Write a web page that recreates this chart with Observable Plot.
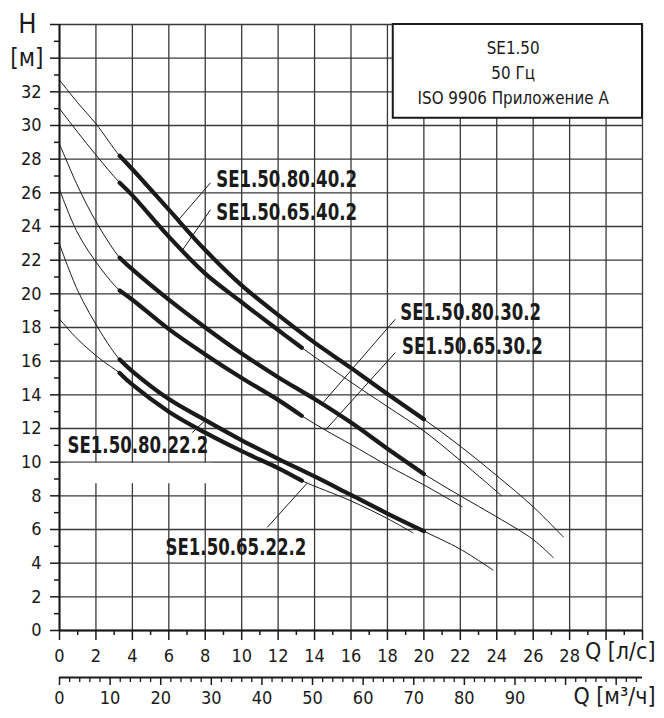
<!DOCTYPE html>
<html><head><meta charset="utf-8">
<script src="https://cdn.jsdelivr.net/npm/d3@7"></script>
<script src="https://cdn.jsdelivr.net/npm/@observablehq/plot@0.6"></script>
<style>
body{margin:0;background:#fff;}
#chart{width:664px;height:718px;}
svg{font-family:"Liberation Sans Narrow","DejaVu Sans Condensed","Roboto Condensed",Arial,sans-serif;}
</style></head><body><div id="chart"></div>
<script>
// Pump curves: flow Q [л/с] and head H [м]
const q80_40 = [0, 1, 2, 3.3, 4, 6, 8, 10, 12, 14, 16, 18, 20, 22, 24, 26, 27.65];
const h80_40 = [32.7, 31.35, 30.1, 28.2, 27.4, 25.0, 22.6, 20.5, 18.75, 17.1, 15.6, 14.05, 12.55, 10.95, 9.2, 7.35, 5.56];
const q65_40 = [0, 1, 2, 3.3, 4, 6, 8, 10, 12, 13.3, 16, 18, 20, 22, 24.27];
const h65_40 = [31.0, 29.6, 28.25, 26.6, 25.85, 23.4, 21.2, 19.5, 17.85, 16.8, 14.75, 13.3, 11.85, 10.1, 8.0];
const q80_30 = [0, 1, 2, 3.3, 4, 6, 8, 10, 12, 14, 16, 18, 20, 22, 24, 26, 27.1];
const h80_30 = [28.9, 26.4, 24.3, 22.15, 21.45, 19.65, 18.0, 16.45, 15.05, 13.75, 12.35, 10.8, 9.3, 8.0, 6.75, 5.4, 4.33];
const q65_30 = [0, 1, 2.27, 3.3, 4, 6, 8, 10, 12, 13.3, 14.6, 16, 18, 20, 22.1];
const h65_30 = [26.2, 23.6, 21.5, 20.2, 19.65, 17.9, 16.4, 15.0, 13.7, 12.75, 11.9, 11.05, 9.8, 8.65, 7.35];
const q80_22 = [0, 1, 2.27, 3.3, 4, 6, 8, 10, 12, 14, 16, 18, 20, 22, 23.8];
const h80_22 = [22.95, 20.2, 17.7, 16.1, 15.4, 13.75, 12.5, 11.3, 10.2, 9.15, 8.05, 6.95, 5.9, 4.83, 3.59];
const q65_22 = [0, 1, 2.27, 3.3, 4, 6, 8, 10, 12, 13.3, 16, 18, 19.4];
const h65_22 = [18.5, 17.3, 16.1, 15.3, 14.6, 13.0, 11.75, 10.65, 9.65, 8.9, 7.7, 6.65, 5.8];

// Operating ranges (thick part of each curve), Q [л/с]
const range80 = [3.3, 20];
const range65 = [3.3, 13.3];

const pumpNames = ["SE1.50.80.40.2", "SE1.50.65.40.2", "SE1.50.80.30.2", "SE1.50.65.30.2", "SE1.50.80.22.2", "SE1.50.65.22.2"];

// Axis ticks
const xTickLabels = [0, 2, 4, 6, 8, 10, 12, 14, 16, 18, 20, 22, 24, 26, 28];
const yTickLabels = [0, 2, 4, 6, 8, 10, 12, 14, 16, 18, 20, 22, 24, 26, 28, 30, 32];
const m3hTickLabels = [0, 10, 20, 30, 40, 50, 60, 70, 80, 90];

// Legend text
const legendLines = ["SE1.50", "50 Гц", "ISO 9906 Приложение A"];

// Curve labels (annotation anchor in data units) and leader lines
const labelX = [8.6, 8.6, 18.7, 18.8, 0.44, 5.82];
const labelY = [26.82, 24.82, 18.88, 16.9, 10.97, 4.93];
const leadFromX = [8.29, 8.29, 18.43, 18.43, 7.29, 11.4];
const leadFromY = [26.6, 25.0, 18.49, 16.51, 11.76, 6.12];
const leadToX = [6.5, 6.75, 14.4, 14.59, 8.02, 13.59];
const leadToY = [24.35, 22.6, 13.45, 11.9, 12.5, 8.75];

const series = [
  [q80_40, h80_40, range80], [q65_40, h65_40, range65],
  [q80_30, h80_30, range80], [q65_30, h65_30, range65],
  [q80_22, h80_22, range80], [q65_22, h65_22, range65]
];
const rows = [];
series.forEach(([qs, hs, r], i) => qs.forEach((q, j) => rows.push({name: pumpNames[i], q, h: hs[j], op: q >= r[0] - 1e-9 && q <= r[1] + 1e-9})));
const thickRows = rows.filter(d => d.op);

const labels = pumpNames.map((name, i) => ({name, x: labelX[i], y: labelY[i]}));
const leaders = pumpNames.map((name, i) => ({x1: leadFromX[i], y1: leadFromY[i], x2: leadToX[i], y2: leadToY[i]}));

const gridX = d3.range(0, 33, 2);
const gridY = d3.range(0, 37, 2);
const minorX = d3.range(1, 33, 2);
const minorY = d3.range(1, 36, 2);
const m3hMinor = d3.range(0, 116, 2).filter(v => v % 10 !== 0);
const m3hMajor = d3.range(0, 116, 10);

const gridColor = "#3a3a3a";
const ink = "#1a1a1a";

const chart = Plot.plot({
  width: 664,
  height: 718,
  marginLeft: 59,
  marginRight: 22,
  marginTop: 24,
  marginBottom: 88,
  x: {domain: [0, 32]},
  y: {domain: [0, 36]},
  style: {fontFamily: '"Liberation Sans Narrow","DejaVu Sans Condensed","Roboto Condensed",Arial,sans-serif', color: ink, background: "#fff"},
  marks: [
    Plot.ruleX(gridX, {stroke: gridColor, strokeWidth: 1.3}),
    Plot.ruleY(gridY, {stroke: gridColor, strokeWidth: 1.3}),
    // white gap under the SE1.50.80.22.2 label
    Plot.rect([{x1: 0.35, x2: 8.4, y1: 8.72, y2: 9.93}], {x1: "x1", x2: "x2", y1: "y1", y2: "y2", fill: "#fff"}),
    Plot.ruleX([0], {stroke: ink, strokeWidth: 2}),
    Plot.ruleY([0], {stroke: ink, strokeWidth: 2}),
    // legend box
    Plot.rect([{x1: 18.32, x2: 32, y1: 30.43, y2: 36}], {x1: "x1", x2: "x2", y1: "y1", y2: "y2", fill: "#fff", stroke: ink, strokeWidth: 2}),
    Plot.text(legendLines, {x: 24.9, y: (d, i) => [34.6, 33.1, 31.6][i], text: d => d, fontSize: 18.5, fill: ink, className: "legend-text"}),
    // curves
    Plot.line(rows, {x: "q", y: "h", z: "name", curve: "catmull-rom", stroke: ink, strokeWidth: 1}),
    Plot.line(thickRows, {x: "q", y: "h", z: "name", curve: "catmull-rom", stroke: ink, strokeWidth: 4.2}),
    Plot.link(leaders, {x1: "x1", y1: "y1", x2: "x2", y2: "y2", stroke: ink, strokeWidth: 1}),
    Plot.text(labels, {x: "x", y: "y", text: "name", textAnchor: "start", fontWeight: "bold", fontSize: 23.5, fill: ink, className: "curve-label"}),
    // y axis
    Plot.axisY(yTickLabels, {anchor: "left", tickSize: 9, tickPadding: 9, fontSize: 18, stroke: ink, strokeWidth: 1.5, label: null}),
    Plot.axisY(minorY, {anchor: "left", tickSize: 5, tickFormat: () => "", stroke: ink, strokeWidth: 1.5, label: null}),
    Plot.axisY([36], {anchor: "left", tickSize: 9, tickPadding: 14, tickFormat: () => "H", fontSize: 27, stroke: ink, strokeWidth: 1.5, label: null}),
    Plot.axisY([34], {anchor: "left", tickSize: 9, tickPadding: 7, tickFormat: () => "[м]", fontSize: 24, stroke: ink, strokeWidth: 1.5, label: null}),
    // x axis l/s
    Plot.axisX(gridX, {anchor: "bottom", tickSize: 10, tickPadding: 9, tickFormat: d => xTickLabels.includes(d) ? String(d) : "", fontSize: 18, stroke: ink, strokeWidth: 1.5, label: null}),
    Plot.axisX(minorX, {anchor: "bottom", tickSize: 5, tickFormat: () => "", stroke: ink, strokeWidth: 1.5, label: null}),
    Plot.text(["Q [л/с]"], {frameAnchor: "bottom-right", dx: 13, dy: 28, textAnchor: "end", fontSize: 23, fill: ink}),
    // x axis m3/h
    Plot.ruleY([0], {dy: 47, stroke: ink, strokeWidth: 1.8}),
    Plot.axisX(m3hMinor.map(v => v / 3.6), {anchor: "bottom", dy: 47, tickSize: 5, tickFormat: () => "", stroke: ink, strokeWidth: 1.3, label: null}),
    Plot.axisX(m3hMajor.map(v => v / 3.6), {anchor: "bottom", dy: 47, tickSize: 8, tickPadding: 6, tickFormat: d => { const v = Math.round(d * 3.6); return m3hTickLabels.includes(v) ? String(v) : ""; }, fontSize: 18, stroke: ink, strokeWidth: 1.5, label: null}),
    Plot.text(["Q [м³/ч]"], {frameAnchor: "bottom-right", dx: 13, dy: 73, textAnchor: "end", fontSize: 23, fill: ink})
  ]
});
document.getElementById("chart").append(chart);
// condense the bold curve labels and the legend lines to match the narrow typeface of the original
const squeeze = (sel, k) => chart.querySelectorAll(sel).forEach(t => {
  const len = t.getComputedTextLength();
  if (len > 0) { t.setAttribute("textLength", (len * k).toFixed(1)); t.setAttribute("lengthAdjust", "spacingAndGlyphs"); }
});
squeeze(".curve-label text", 0.785);
squeeze(".legend-text text", 0.91);
</script>
</body></html>
